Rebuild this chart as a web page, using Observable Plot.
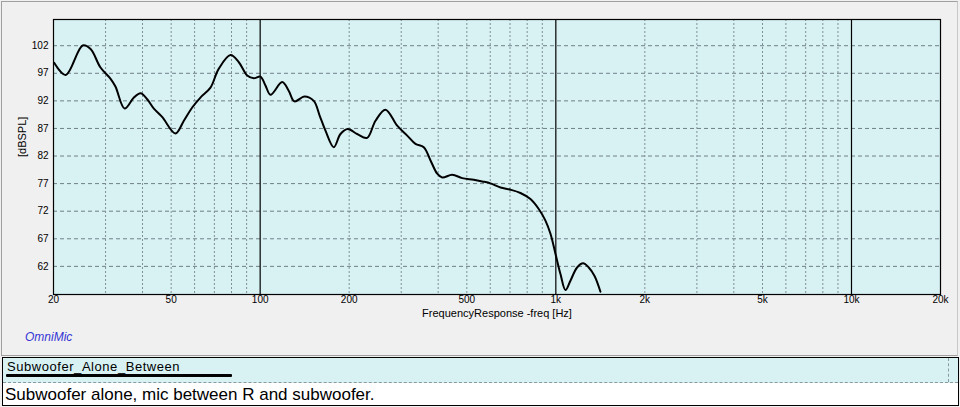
<!DOCTYPE html>
<html>
<head>
<meta charset="utf-8">
<script src="https://cdn.jsdelivr.net/npm/d3@7"></script>
<script src="https://cdn.jsdelivr.net/npm/@observablehq/plot@0.6"></script>
<style>
  html, body { margin: 0; padding: 0; background: #f0f0f0; }
  #wrap { position: relative; width: 960px; height: 407px; background: #f0f0f0; overflow: hidden; font-family: "Liberation Sans", Arial, sans-serif; }
  #panel { position: absolute; left: 1px; top: 1px; width: 955px; height: 353px; border: 1px solid #a0a0a0; border-right-color: #c8c8c8; }
  #chart { position: absolute; left: 0; top: 0; }
  #omni { position: absolute; left: 25px; top: 330px; font-size: 12px; font-style: italic; color: #3535d5; }
  #legend { position: absolute; left: 2px; top: 357px; width: 955px; height: 47px; border: 1px solid #000; background: #fff; }
  #legtop { position: absolute; left: 0; top: 0; width: 955px; height: 24px; background: #d8f2f4; border-bottom: 1px dashed #8a9aa0; }
  #legvdash { position: absolute; left: 945px; top: 0; height: 24px; border-left: 1px dashed #8a9aa0; }
  #legname { position: absolute; left: 4px; top: 1px; font-size: 13px; letter-spacing: 0.55px; color: #000; }
  #legline { position: absolute; left: 3px; top: 16px; width: 226px; height: 3px; background: #000; border-radius: 1px; }
  #legdesc { position: absolute; left: 2px; top: 27px; font-size: 17px; letter-spacing: 0px; color: #000; white-space: nowrap; }
</style>
</head>
<body>
<div id="wrap">
  <div id="panel"></div>
  <div id="chart"></div>
  <div id="omni">OmniMic</div>
  <div id="legend">
    <div id="legtop"></div>
    <div id="legvdash"></div>
    <div id="legname">Subwoofer_Alone_Between</div>
    <div id="legline"></div>
    <div id="legdesc">Subwoofer alone, mic between R and subwoofer.</div>
  </div>
</div>
<script>
// Frequency response (Hz) and level (dBSPL)
const freq = [20.1, 22.0, 25.1, 26.7, 28.8, 31.2, 32.4, 34.8, 37.4, 39.4, 41.5, 43.7, 46.6, 51.7, 55.2, 58.9, 62.8, 67.9, 72.4, 79.4, 84.7, 90.4, 95.2, 100.2, 104.2, 108.4, 118.7, 125, 130.6, 141.2, 151.8, 159, 166.3, 177.4, 186.9, 197.8, 212.8, 230, 245.5, 265.4, 290.7, 314.3, 335.2, 357.6, 376.9, 397.1, 412.8, 446.2, 482.3, 527.8, 563.4, 601.2, 649.8, 702.4, 759.2, 820.6, 875.4, 922.4, 959.2, 997, 1036.8, 1078, 1120.6, 1180, 1236.8, 1292, 1350.6, 1415.6];
const spl = [98.9, 96.7, 102.05, 101.4, 98.1, 96.0, 94.6, 90.6, 92.6, 93.4, 92.3, 90.6, 89.1, 86.1, 88.4, 90.8, 92.6, 94.4, 97.8, 100.3, 99.0, 96.6, 96.1, 96.4, 94.8, 93.1, 95.4, 93.8, 91.9, 92.8, 92.0, 89.3, 86.6, 83.6, 86.0, 86.9, 86.0, 85.3, 88.4, 90.4, 87.5, 85.7, 84.2, 83.6, 81.2, 78.8, 78.1, 78.6, 78.0, 77.7, 77.4, 77.05, 76.3, 75.9, 75.3, 74.2, 72.4, 70.3, 67.9, 64.3, 60.6, 57.7, 59.4, 61.8, 62.55, 61.8, 60.3, 57.4];

const xTickValues = [20, 50, 100, 200, 500, 1000, 2000, 5000, 10000, 20000];
const xTickLabels = ["20", "50", "100", "200", "500", "1k", "2k", "5k", "10k", "20k"];
const xMinorGrid = [30, 40, 50, 60, 70, 80, 90, 200, 300, 400, 500, 600, 700, 800, 900, 2000, 3000, 4000, 5000, 6000, 7000, 8000, 9000];
const xMajorGrid = [100, 1000, 10000];
const yTickValues = [62, 67, 72, 77, 82, 87, 92, 97, 102];
const xLabel = "FrequencyResponse -freq [Hz]";
const yLabel = "[dBSPL]";

const data = freq.map((f, i) => ({f, db: spl[i]}));
const xTicks = xTickValues.map((v, i) => ({v, label: xTickLabels[i]}));

const chart = Plot.plot({
  width: 960,
  height: 330,
  marginLeft: 53,
  marginRight: 20,
  marginTop: 19,
  marginBottom: 36,
  style: {fontFamily: "'Liberation Sans', Arial, sans-serif", fontSize: "10px", background: "transparent", color: "#000"},
  x: {type: "log", domain: [20, 20000], label: null, axis: null},
  y: {domain: [56.9, 106.75], label: null},
  marks: [
    Plot.frame({fill: "#d8f2f4", stroke: null}),
    Plot.ruleY(yTickValues, {stroke: "#6f7f86", strokeDasharray: "4,3", strokeWidth: 1}),
    Plot.ruleX(xMinorGrid, {stroke: "#7f8f96", strokeDasharray: "2,2", strokeWidth: 1}),
    Plot.ruleX(xMajorGrid, {stroke: "#000", strokeWidth: 1.2}),
    Plot.line(data, {x: "f", y: "db", stroke: "#000", strokeWidth: 2, curve: "catmull-rom"}),
    Plot.frame({stroke: "#000", strokeWidth: 1.2}),
    Plot.axisY(yTickValues, {tickSize: 0, tickPadding: 5, label: null, fontSize: 10}),
    Plot.text(xTicks, {x: "v", text: "label", frameAnchor: "bottom", dy: 8, fontSize: 10}),
    Plot.text([xLabel], {frameAnchor: "bottom", dy: 22, fontSize: 11, text: d => d}),
    Plot.text([yLabel], {frameAnchor: "left", dx: -31, rotate: -90, fontSize: 11, text: d => d})
  ]
});
document.getElementById("chart").appendChild(chart);
</script>
</body>
</html>
